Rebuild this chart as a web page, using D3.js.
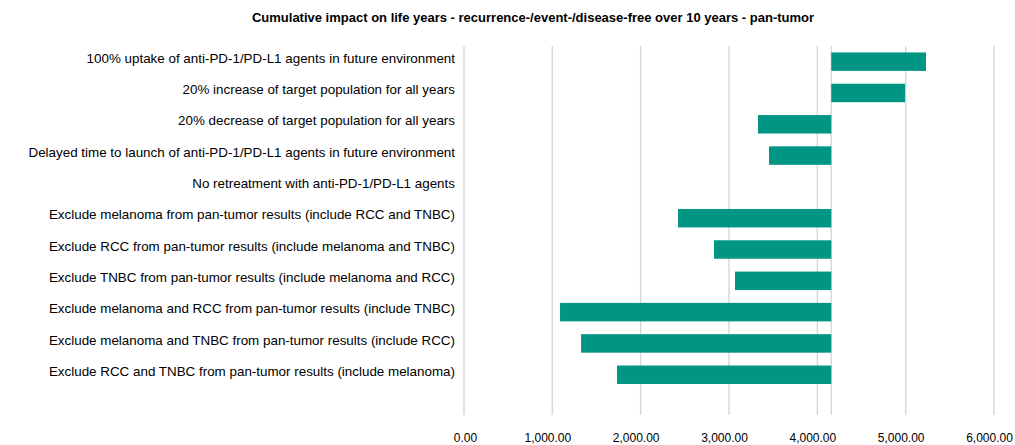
<!DOCTYPE html>
<html>
<head>
<meta charset="utf-8">
<script src="https://cdn.jsdelivr.net/npm/d3@7"></script>
<style>
  body { margin: 0; background: #fff; }
  text { font-family: "Liberation Sans", Arial, sans-serif; fill: #000; }
</style>
</head>
<body>
<script>

// scenarios, top to bottom
var scenarios = [
    "100% uptake of anti-PD-1/PD-L1 agents in future environment",
    "20% increase of target population for all years",
    "20% decrease of target population for all years",
    "Delayed time to launch of anti-PD-1/PD-L1 agents in future environment",
    "No retreatment with anti-PD-1/PD-L1 agents",
    "Exclude melanoma from pan-tumor results (include RCC and TNBC)",
    "Exclude RCC from pan-tumor results (include melanoma and TNBC)",
    "Exclude TNBC from pan-tumor results (include melanoma and RCC)",
    "Exclude melanoma and RCC from pan-tumor results (include TNBC)",
    "Exclude melanoma and TNBC from pan-tumor results (include RCC)",
    "Exclude RCC and TNBC from pan-tumor results (include melanoma)"
];

// life years under each scenario (base case in the middle)
var base_value = 4158;
var scenario_values = [5230, 4993, 3328, 3453, 4158, 2423, 2830, 3068, 1087, 1325, 1732];

var x_ticks = [0, 1000, 2000, 3000, 4000, 5000, 6000];

var chart_title = "Cumulative impact on life years - recurrence-/event-/disease-free over 10 years - pan-tumor";

var width = 1015,
    height = 445;

var bar_col = "#009683",
    grid_col = "#d9d9d9";

var xScale = d3.scaleLinear()
        .domain([0, 6000])
        .range([464, 994]);

var yScale = d3.scaleBand()
        .domain(scenarios)
        .range([46, 390.4])
        .paddingInner(0.41)
        .paddingOuter(0.205);

var svg = d3.select("body").append("svg")
            .attr("width", width)
            .attr("height", height);

// title
svg.append("text")
    .attr("x", 533)
    .attr("y", 22)
    .attr("text-anchor", "middle")
    .style("font-size", "13px")
    .style("font-weight", "bold")
    .text(chart_title);

// vertical gridlines
svg.append("g")
    .selectAll("line")
    .data(x_ticks)
    .enter().append("line")
    .attr("x1", function(d) { return xScale(d); })
    .attr("x2", function(d) { return xScale(d); })
    .attr("y1", 46)
    .attr("y2", 415)
    .attr("stroke", grid_col)
    .attr("stroke-width", 1.5);

// base case line
svg.append("line")
    .attr("x1", xScale(base_value))
    .attr("x2", xScale(base_value))
    .attr("y1", 46)
    .attr("y2", 415)
    .attr("stroke", grid_col)
    .attr("stroke-width", 1.5);

// x axis labels
var xAxis = d3.axisBottom(xScale)
        .tickValues(x_ticks)
        .tickSize(0)
        .tickPadding(0)
        .tickFormat(d3.format(",.2f"));

var gx = svg.append("g")
    .attr("transform", "translate(0,433)")
    .call(xAxis);
gx.select(".domain").remove();
gx.selectAll("text")
    .attr("dx", function(d) { return d === 0 ? 1 : -5; })
    .style("font-size", "12px")
    .style("font-family", "\"Liberation Sans\", Arial, sans-serif")
    .attr("fill", "#000");

// bars
svg.append("g")
    .selectAll("rect")
    .data(scenarios)
    .enter().append("rect")
    .attr("x", function(d, i) { return xScale(Math.min(base_value, scenario_values[i])); })
    .attr("width", function(d, i) { return Math.abs(xScale(scenario_values[i]) - xScale(base_value)); })
    .attr("y", function(d) { return yScale(d); })
    .attr("height", yScale.bandwidth())
    .style("fill", bar_col);

// category labels
svg.append("g")
    .selectAll("text")
    .data(scenarios)
    .enter().append("text")
    .attr("x", 455)
    .attr("y", function(d) { return yScale(d) + yScale.bandwidth() / 2 - 3.5; })
    .attr("dy", "0.35em")
    .attr("text-anchor", "end")
    .style("font-size", "13.4px")
    .text(function(d) { return d; });

</script>
</body>
</html>
